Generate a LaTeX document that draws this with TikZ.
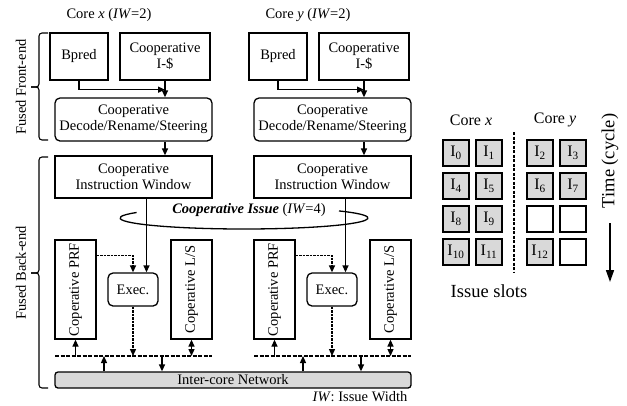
\documentclass[tikz,border=0pt]{standalone}
\usepackage{fontspec}
\setmainfont{Liberation Serif}
\usetikzlibrary{arrows.meta}

\begin{document}
\begin{tikzpicture}[x=1pt,y=-1pt,
    font=\fontsize{14.5}{16}\selectfont,
    >={Triangle[length=7pt,width=6pt]},
    blk/.style={draw,line width=1.3pt,align=center,fill=white,inner sep=1pt},
    rblk/.style={blk,rounded corners=5pt},
    vblk/.style={blk,minimum width=41,minimum height=99},
    bus/.style={line width=2pt,dash pattern=on 4pt off 1.5pt},
    sar/.style={->,line width=1.3pt},
    dar/.style={->,line width=1.3pt,dash pattern=on 2.5pt off 1pt},
    slot/.style={draw,line width=1.4pt,fill=gray!30,minimum size=26,inner sep=0pt,
      font=\fontsize{16}{18}\selectfont},
    fuse/.style={line width=1.1pt,rounded corners=3pt},
    big/.style={font=\fontsize{18.5}{20}\selectfont}]
    \useasboundingbox (0,0) rectangle (627,405);
    \node[draw,line width=1.3pt,fill=gray!30,rounded corners=3pt,minimum width=356,
      minimum height=16,inner sep=0pt] (net) at (233,380) {Inter-core Network};
    \foreach \c/\dx in {x/0,y/199} {
      \begin{scope}[xshift=\dx]
        \node (core\c) at (109,15) {Core \textit{\c} (\textit{IW}=2)};
        \node[blk,minimum width=58,minimum height=47] (bp\c) at (79,56.5) {Bpred};
        \node[blk,minimum width=90,minimum height=47] (ic\c) at (165,56.5) {Cooperative\\I-\$};
        \node[rblk,minimum width=157,minimum height=43] (dec\c) at (133.5,119.5)
          {Cooperative\\Decode/Rename/Steering};
        \node[blk,minimum width=157,minimum height=42] (iw\c) at (133.5,177)
          {Cooperative\\Instruction Window};
        \node[vblk] (prf\c) at (75.5,289.5) {\rotatebox{90}{Coperative PRF}};
        \node[rblk,minimum width=50,minimum height=33] (ex\c) at (133,289.5) {Exec.};
        \node[vblk] (ls\c) at (191.5,289.5) {\rotatebox{90}{Coperative L/S}};
        \coordinate (bl\c) at (55,356);
        \coordinate (br\c) at (212,356);
        \coordinate (up\c) at (104,356);
        \coordinate (dn\c) at (162,356);
        \draw[bus] (bl\c) -- (br\c);
        \draw[sar] (bp\c.south) |- ([yshift=-9pt]ic\c.south);
        \draw[sar] (ic\c.south) -- (ic\c.south |- dec\c.north);
        \draw[sar] (ic\c.south |- dec\c.south) -- (ic\c.south |- iw\c.north);
        \draw[sar] ([xshift=13pt]iw\c.south) -- ([xshift=13pt]iw\c.south |- ex\c.north);
        \draw[dar] ([yshift=-16pt]prf\c.north east) -| (ex\c.north);
        \draw[dar] (ex\c.south) -- (ex\c.south |- bl\c);
        \draw[sar] (prf\c.south |- bl\c) -- (prf\c.south);
        \draw[sar,<->] (ls\c.south |- bl\c) -- (ls\c.south);
        \draw[sar] (up\c |- net.north) -- (up\c);
        \draw[sar] (dn\c) -- (dn\c |- net.north);
      \end{scope}
    }
    \draw[line width=1.3pt] ([shift={(150:124pt and 11pt)}]244,218)
      arc[start angle=150,end angle=400,x radius=124pt,y radius=11pt];
    \node (iss) at (249,210) {\textbf{\textit{Cooperative Issue}} (\textit{IW}=4)};
    \node[anchor=east] (iwnote) at (411,397) {\textit{IW}: Issue Width};
    \draw[fuse] (48,33) -| (39,87) -- (31,87);
    \draw[fuse] (31,87) -- (39,87) |- (48,140);
    \draw[fuse] (48,157) -| (39,273) -- (31,273);
    \draw[fuse] (31,273) -- (39,273) |- (48,388);
    \node[rotate=90] (fe) at (21,87) {Fused Front-end};
    \node[rotate=90] (be) at (21,273) {Fused Back-end};
    \node[font=\fontsize{16}{18}\selectfont] (slx) at (471,120) {Core \textit{x}};
    \node[font=\fontsize{16}{18}\selectfont] (sly) at (555,120) {Core \textit{y}};
    \foreach \sx/\sy/\t in {456/153/0,489/153/1,540/153/2,573/153/3,
                            456/186/4,489/186/5,540/186/6,573/186/7,
                            456/219/8,489/219/9,456/252/10,489/252/11,540/252/12}
      \node[slot] (s\t) at (\sx,\sy) {I\textsubscript{\t}};
    \foreach \sx/\sy [count=\k] in {540/219,573/219,573/252}
      \node[slot,fill=white] (e\k) at (\sx,\sy) {};
    \coordinate (sept) at (514,132);
    \coordinate (sepb) at (514,273);
    \draw[line width=1.2pt,dash pattern=on 3pt off 1.5pt] (sept) -- (sepb);
    \node[big] (slots) at (489,291) {Issue slots};
    \node[big,rotate=90] (time) at (610,161) {Time (cycle)};
    \coordinate (tt) at (610,223);
    \coordinate (tb) at (610,282);
    \draw[line width=1.6pt,-{Triangle[length=12pt,width=8pt]}] (tt) -- (tb);
\end{tikzpicture}
\end{document}
